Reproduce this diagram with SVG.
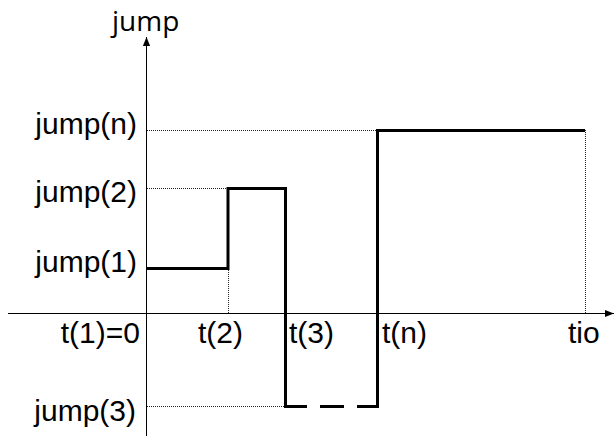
<svg xmlns="http://www.w3.org/2000/svg" width="614" height="436" viewBox="0 0 614 436">
<defs>
<style>
.lbl{font-family:"Liberation Sans",Arial,sans-serif;font-size:30px;fill:#000}
.ttl{font-family:"Open Sans","Noto Sans",sans-serif;font-size:28px;fill:#000}
.axis{stroke:#000;stroke-width:1;fill:none}
.dot{stroke:#222;stroke-width:1;stroke-dasharray:1 1;fill:none}
.step{stroke:#000;stroke-width:3;fill:none;stroke-linejoin:miter;stroke-linecap:butt}
</style>
<marker id="ah" viewBox="0 0 10 10" refX="10" refY="5" markerWidth="9" markerHeight="9" markerUnits="userSpaceOnUse" orient="auto">
<path d="M0,1 L10,5 L0,9 Z" fill="#000"/>
</marker>
</defs>
<rect width="614" height="436" fill="#fff"/>
<g id="guides">
<line class="dot" x1="147" y1="130.5" x2="377" y2="130.5"/>
<line class="dot" x1="147" y1="188.5" x2="228" y2="188.5"/>
<line class="dot" x1="147" y1="406.5" x2="285" y2="406.5"/>
<line class="dot" x1="228.5" y1="268" x2="228.5" y2="313"/>
<line class="dot" x1="585.5" y1="130" x2="585.5" y2="313"/>
</g>
<g id="axes">
<line class="axis" x1="146.5" y1="436" x2="146.5" y2="37" marker-end="url(#ah)"/>
<line class="axis" x1="8" y1="313.5" x2="614" y2="313.5" marker-end="url(#ah)"/>
</g>
<g id="steps">
<path class="step" d="M146,268.5 H228 V188.5 H285.5 V406.5 H307"/>
<path class="step" d="M320,406.5 H344"/>
<path class="step" d="M357,406.5 H377.5 V130.5 H585"/>
</g>
<g id="labels">
<text class="ttl" x="112" y="31">jump</text>
<text class="lbl" x="137" y="134" text-anchor="end">jump(n)</text>
<text class="lbl" x="137" y="202" text-anchor="end">jump(2)</text>
<text class="lbl" x="137" y="272" text-anchor="end">jump(1)</text>
<text class="lbl" x="136" y="421" text-anchor="end">jump(3)</text>
<text class="lbl" x="140" y="343" text-anchor="end">t(1)=0</text>
<text class="lbl" x="198" y="343">t(2)</text>
<text class="lbl" x="289" y="343">t(3)</text>
<text class="lbl" x="382" y="343">t(n)</text>
<text class="lbl" x="568" y="343">tio</text>
</g>
</svg>
